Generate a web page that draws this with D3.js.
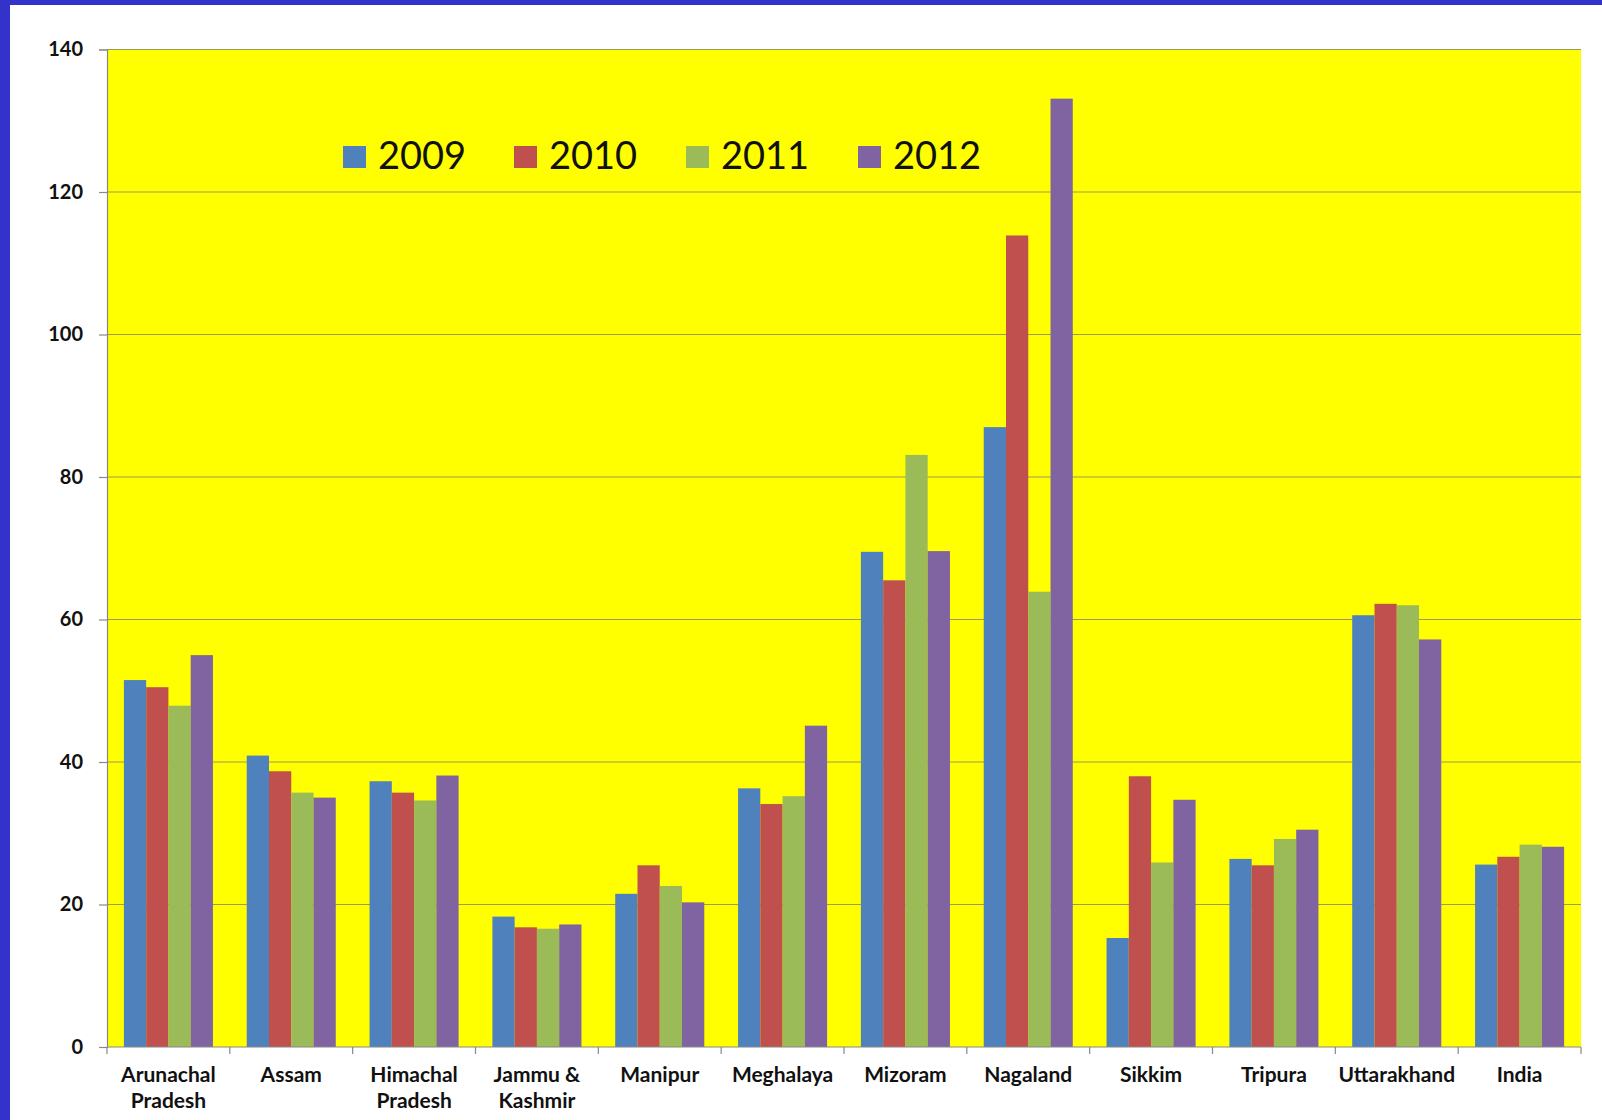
<!DOCTYPE html>
<html><head><meta charset="utf-8">
<script src="https://cdn.jsdelivr.net/npm/d3@7"></script>
<style>
html,body{margin:0;padding:0;background:#fff;}
svg{display:block;}
</style></head>
<body>
<svg id="chart" width="1602" height="1120"></svg>
<script>
const categories = ["Arunachal\nPradesh","Assam","Himachal\nPradesh","Jammu &\nKashmir","Manipur","Meghalaya","Mizoram","Nagaland","Sikkim","Tripura","Uttarakhand","India"];
const seriesNames = ["2009","2010","2011","2012"];
const v2009 = [51.5,40.9,37.3,18.3,21.5,36.3,69.5,87.0,15.3,26.4,60.6,25.6];
const v2010 = [50.5,38.7,35.7,16.8,25.5,34.1,65.5,113.9,38.0,25.5,62.2,26.7];
const v2011 = [47.9,35.7,34.6,16.6,22.6,35.2,83.1,63.9,25.9,29.2,62.0,28.4];
const v2012 = [55.0,35.0,38.1,17.2,20.3,45.1,69.6,133.1,34.7,30.5,57.2,28.1];
const yTicks = [0,20,40,60,80,100,120,140];
const colors = ["#4f81bd","#c0504d","#9bbb59","#8064a2"];
const seriesValues = [v2009,v2010,v2011,v2012];

const svg = d3.select("#chart");
// frame
svg.append("rect").attr("x",0).attr("y",0).attr("width",1602).attr("height",5).attr("fill","#3333cc");
svg.append("rect").attr("x",0).attr("y",0).attr("width",10).attr("height",1120).attr("fill","#3333cc");

const L=107, R=1581, T=49.5, B=1047;
const x0 = d3.scaleBand().domain(categories).range([L,R]).padding(0);
const bw = x0.bandwidth();
const off = bw*0.1375;
const x1 = d3.scaleBand().domain(seriesNames).range([off,bw-off]).padding(0);
const y = d3.scaleLinear().domain([0,140]).range([B,T]);

// plot background
svg.append("rect").attr("x",L).attr("y",T).attr("width",R-L).attr("height",B-T).attr("fill","#ffff00");

// gridlines
svg.append("g").selectAll("line").data(yTicks.filter(d=>d>0)).join("line")
  .attr("x1",L).attr("x2",R).attr("y1",d=>y(d)).attr("y2",d=>y(d))
  .attr("stroke","#9a9a5a").attr("stroke-width",1.2);

// bars
const table = categories.map((c,i)=>({c, vals: seriesNames.map((s,j)=>({s, v: seriesValues[j][i], col: colors[j]}))}));
const g = svg.append("g");
g.selectAll("g").data(table).join("g")
  .attr("transform",d=>`translate(${x0(d.c)},0)`)
  .selectAll("rect").data(d=>d.vals).join("rect")
  .attr("x",d=>x1(d.s)).attr("width",x1.bandwidth())
  .attr("y",d=>y(d.v)).attr("height",d=>B-y(d.v))
  .attr("fill",d=>d.col);

// y axis
const yAxis = d3.axisLeft(y).tickValues(yTicks).tickSize(8).tickPadding(16);
const ya = svg.append("g").attr("transform",`translate(${L},0)`).call(yAxis);
ya.select(".domain").attr("stroke","#888").attr("stroke-width",1.2);
ya.selectAll(".tick line").attr("stroke","#888").attr("stroke-width",1.2);
ya.selectAll(".tick text").attr("font-family","Lato, 'Open Sans', sans-serif").attr("font-weight","bold").attr("font-size","20px").attr("fill","#111");

// x axis line and ticks at boundaries
svg.append("line").attr("x1",L).attr("x2",R).attr("y1",B).attr("y2",B).attr("stroke","#888").attr("stroke-width",1.2);
const bounds = categories.map(c=>x0(c)).concat([R]);
svg.append("g").selectAll("line").data(bounds).join("line")
  .attr("x1",d=>d).attr("x2",d=>d).attr("y1",B).attr("y2",B+7)
  .attr("stroke","#888").attr("stroke-width",1.2);

// category labels
const xl = svg.append("g");
xl.selectAll("text").data(categories).join("text")
  .attr("x",d=>x0(d)+bw/2).attr("y",1082)
  .attr("text-anchor","middle")
  .attr("font-family","Lato, 'Open Sans', sans-serif").attr("font-weight","bold").attr("font-size","21px").attr("fill","#111")
  .each(function(d){
    const parts=d.split("\n");
    d3.select(this).selectAll("tspan").data(parts).join("tspan")
      .attr("x",x0(d)+bw/2).attr("dy",(p,i)=>i===0?0:26).text(p=>p);
  });

// legend
const legendX = [343,514,686,858];
const lg = svg.append("g");
seriesNames.forEach((s,i)=>{
  lg.append("rect").attr("x",legendX[i]).attr("y",146).attr("width",23).attr("height",22).attr("fill",colors[i]);
  lg.append("text").attr("x",legendX[i]+35).attr("y",169).attr("font-family","Lato, 'Open Sans', sans-serif")
    .attr("font-size","38px").attr("fill","#111").text(s);
});
</script>
</body></html>
